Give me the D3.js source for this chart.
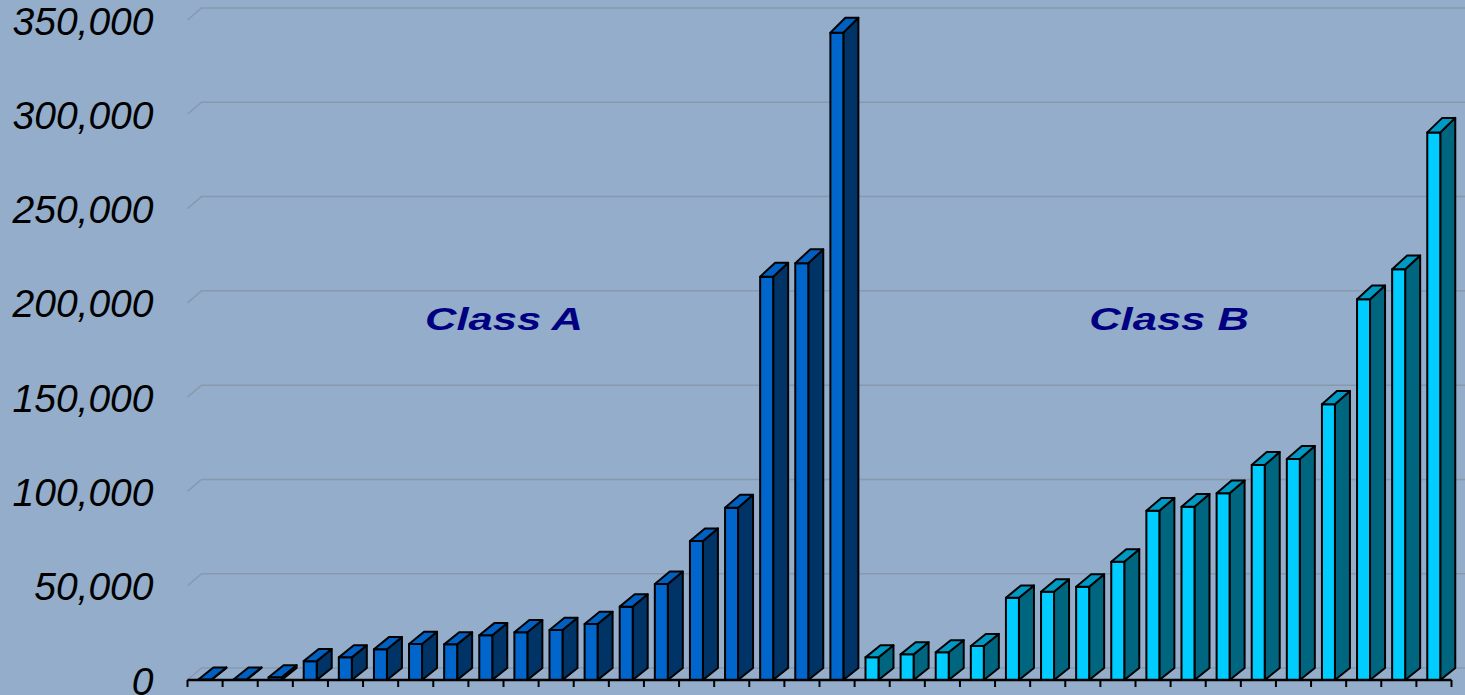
<!DOCTYPE html>
<html>
<head>
<meta charset="utf-8">
<script src="https://cdn.jsdelivr.net/npm/d3@7"></script>
<style>
  html, body { margin: 0; padding: 0; background: #93adca; }
  svg { display: block; }
</style>
</head>
<body>
<div id="chart"></div>
<script>
// values
const classA = [300, 300, 1500, 10000, 12000, 16300, 19100, 18900, 23700, 25300, 26500, 29700,
                38900, 50900, 73700, 91400, 213900, 221000, 343300];
const classB = [12000, 13600, 14700, 18000, 43600, 46800, 49500, 62700, 89800, 91900, 99000,
                114000, 117200, 146200, 201900, 217800, 290400];
const groups = ['Class A', 'Class B'];
const yTicks = [0, 50000, 100000, 150000, 200000, 250000, 300000, 350000];

const width = 1465, height = 695;

// build one row per bar
const rows = [];
classA.forEach((v, i) => rows.push({ cat: 'A' + (i + 1), value: v, group: 0 }));
classB.forEach((v, i) => rows.push({ cat: 'B' + (i + 1), value: v, group: 1 }));

const colors = [
    { front: '#0066cc', side: '#003366', top: '#005fbf' },
    { front: '#00ccff', side: '#006680', top: '#0099c4' }
];

const svg = d3.select('#chart').append('svg')
    .attr('width', width)
    .attr('height', height);

svg.append('rect')
    .attr('width', width)
    .attr('height', height)
    .attr('fill', '#93adca');

const x = d3.scaleBand()
    .domain(rows.map(d => d.cat))
    .range([187.5, 1451.5]);

const y = d3.scaleLinear()
    .domain([0, 350000])
    .range([680, 20]);

// depth of the back wall
const wallDx = 14, wallDy = -12;

// gridlines on the back wall with the short floor diagonal
const grid = svg.append('g');
grid.selectAll('path')
    .data(yTicks)
    .enter().append('path')
    .attr('d', d => `M${x.range()[0]},${y(d)} L${x.range()[0] + wallDx},${y(d) + wallDy} L${width},${y(d) + wallDy}`)
    .attr('fill', 'none')
    .attr('stroke', '#8899ae')
    .attr('stroke-width', 1.5);

// y axis labels
svg.append('g')
    .attr('transform', `translate(${x.range()[0]},0)`)
    .call(d3.axisLeft(y).tickValues(yTicks).tickSize(0).tickPadding(34).tickFormat(d3.format(',')))
    .call(g => g.select('.domain').remove())
    .selectAll('text')
    .attr('fill', '#000')
    .attr('dy', '0.36em')
    .style('font-family', 'Liberation Sans, Arial, sans-serif')
    .style('font-style', 'italic')
    .style('font-size', '39px');

// bars drawn as front face, side face, top face
const bw = x.bandwidth();
const faceX = d => x(d.cat) + bw * 0.31;
const faceW = bw * 0.37;
const barDx = 15;
const base = y(0);

const bars = svg.append('g').selectAll('g')
    .data(rows)
    .enter().append('g')
    .attr('stroke', '#000')
    .attr('stroke-width', 2)
    .attr('stroke-linejoin', 'round');

function topDy(d) {
    return -12 - 3 * (base - y(d.value)) / (base - y(350000));
}

bars.append('path')
    .attr('d', d => {
        const fx = faceX(d) + faceW, ty = y(d.value), dy = topDy(d);
        return `M${fx},${ty} L${fx + barDx},${ty + dy} L${fx + barDx},${base - 12} L${fx},${base} Z`;
    })
    .attr('fill', d => colors[d.group].side);

bars.append('rect')
    .attr('x', d => faceX(d))
    .attr('y', d => y(d.value))
    .attr('width', faceW)
    .attr('height', d => base - y(d.value))
    .attr('fill', d => colors[d.group].front);

bars.append('path')
    .attr('d', d => {
        const fx = faceX(d), ty = y(d.value), dy = topDy(d);
        return `M${fx},${ty} L${fx + barDx},${ty + dy} L${fx + faceW + barDx},${ty + dy} L${fx + faceW},${ty} Z`;
    })
    .attr('fill', d => colors[d.group].top);

// front floor edge and ticks
svg.append('line')
    .attr('x1', x.range()[0])
    .attr('x2', x.range()[1])
    .attr('y1', base)
    .attr('y2', base)
    .attr('stroke', '#000')
    .attr('stroke-width', 2.5);

const tickPos = rows.map(d => x(d.cat)).concat([x.range()[1]]);
svg.append('g').selectAll('line')
    .data(tickPos)
    .enter().append('line')
    .attr('x1', d => d)
    .attr('x2', d => d)
    .attr('y1', base)
    .attr('y2', base + 7)
    .attr('stroke', '#000')
    .attr('stroke-width', 2);

// group labels
const labelX = [504, 1169];
svg.append('g').selectAll('text')
    .data(groups)
    .enter().append('text')
    .attr('transform', (d, i) => `translate(${labelX[i]},330) scale(1.36,1)`)
    .attr('text-anchor', 'middle')
    .attr('fill', '#000080')
    .style('font-family', 'Liberation Sans, Arial, sans-serif')
    .style('font-weight', 'bold')
    .style('font-style', 'italic')
    .style('font-size', '32px')
    .text(d => d);
</script>
</body>
</html>
